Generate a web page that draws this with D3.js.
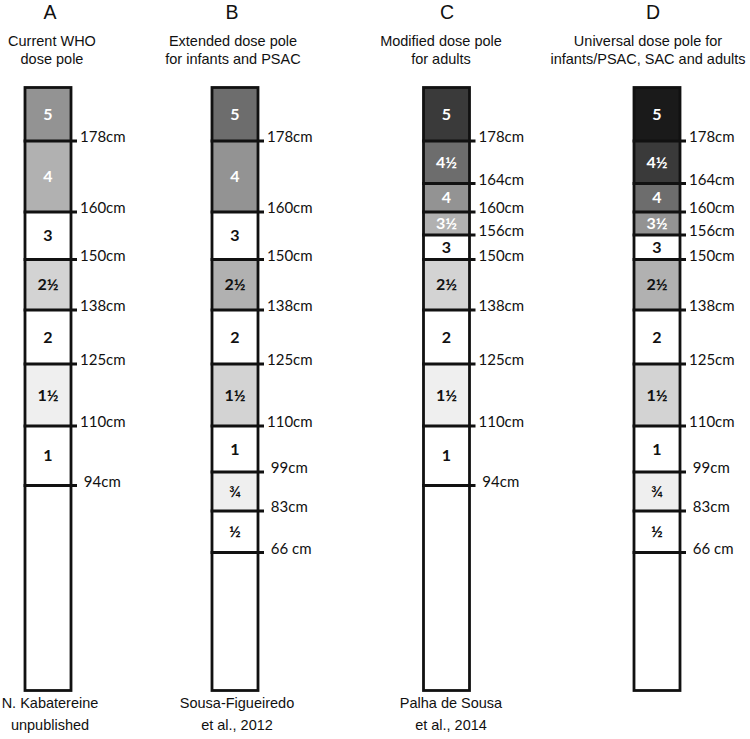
<!DOCTYPE html>
<html>
<head>
<meta charset="utf-8">
<script src="https://cdn.jsdelivr.net/npm/d3@7"></script>
<style>
  html, body { margin: 0; padding: 0; background: #fff; }
  svg { display: block; }
</style>
</head>
<body>
<svg id="chart" width="750" height="739"></svg>
<script>
// ---------------- DATA ----------------
const poleLetters = ["A", "B", "C", "D"];
const poleTitles = [
  ["Current WHO", "dose pole"],
  ["Extended dose pole", "for infants and PSAC"],
  ["Modified dose pole", "for adults"],
  ["Universal dose pole for", "infants/PSAC, SAC and adults"]
];
const poleSources = [
  ["N. Kabatereine", "unpublished"],
  ["Sousa-Figueiredo", "et al., 2012"],
  ["Palha de Sousa", "et al., 2014"],
  []
];
// dose labels (top to bottom), numeric dose, lower cut-off height (cm), cut-off label, shade level
const doseLabelsA = ["5", "4", "3", "2½", "2", "1½", "1"];
const doseValuesA = [5, 4, 3, 2.5, 2, 1.5, 1];
const cutsA = [178, 160, 150, 138, 125, 110, 94];
const cutLabelsA = ["178cm", "160cm", "150cm", "138cm", "125cm", "110cm", " 94cm"];
const shadeA = [4, 3, 0, 2, 0, 1, 0];

const doseLabelsB = ["5", "4", "3", "2½", "2", "1½", "1", "¾", "½"];
const doseValuesB = [5, 4, 3, 2.5, 2, 1.5, 1, 0.75, 0.5];
const cutsB = [178, 160, 150, 138, 125, 110, 99, 83, 66];
const cutLabelsB = ["178cm", "160cm", "150cm", "138cm", "125cm", "110cm", " 99cm", " 83cm", " 66 cm"];
const shadeB = [5, 4, 0, 3, 0, 2, 0, 1, 0];

const doseLabelsC = ["5", "4½", "4", "3½", "3", "2½", "2", "1½", "1"];
const doseValuesC = [5, 4.5, 4, 3.5, 3, 2.5, 2, 1.5, 1];
const cutsC = [178, 164, 160, 156, 150, 138, 125, 110, 94];
const cutLabelsC = ["178cm", "164cm", "160cm", "156cm", "150cm", "138cm", "125cm", "110cm", " 94cm"];
const shadeC = [6, 5, 4, 3, 0, 2, 0, 1, 0];

const doseLabelsD = ["5", "4½", "4", "3½", "3", "2½", "2", "1½", "1", "¾", "½"];
const doseValuesD = [5, 4.5, 4, 3.5, 3, 2.5, 2, 1.5, 1, 0.75, 0.5];
const cutsD = [178, 164, 160, 156, 150, 138, 125, 110, 99, 83, 66];
const cutLabelsD = ["178cm", "164cm", "160cm", "156cm", "150cm", "138cm", "125cm", "110cm", " 99cm", " 83cm", " 66 cm"];
const shadeD = [7, 6, 5, 4, 0, 3, 0, 2, 0, 1, 0];

const poleTopCm = 190;
const poleBottomCm = 40;

// ---------------- LAYOUT ----------------
const poles = [
  {labels: doseLabelsA, values: doseValuesA, cuts: cutsA, cutLabels: cutLabelsA, shade: shadeA},
  {labels: doseLabelsB, values: doseValuesB, cuts: cutsB, cutLabels: cutLabelsB, shade: shadeB},
  {labels: doseLabelsC, values: doseValuesC, cuts: cutsC, cutLabels: cutLabelsC, shade: shadeC},
  {labels: doseLabelsD, values: doseValuesD, cuts: cutsD, cutLabels: cutLabelsD, shade: shadeD}
];
const poleCenters = [48, 235, 446.5, 657];
const letterX = [50, 232, 447, 653];
const titleX = [52, 233, 441, 648];
const sourceX = [50, 237, 451, 650];
const poleW = 46;
const strokeW = 2.8;

// height (cm) -> vertical position: the pole's graduation is not linear in cm
const y = d3.scaleLinear()
  .domain([poleTopCm, 178, 164, 160, 156, 150, 138, 125, 110, 99, 94, 83, 66, poleBottomCm])
  .range([87.5, 141, 183.5, 212, 235, 259.5, 310, 364, 426, 472, 485.5, 511, 552.5, 690.5]);

const grey = d3.scaleOrdinal()
  .domain([0, 1, 2, 3, 4, 5, 6, 7])
  .range(["#ffffff", "#efefef", "#d3d3d3", "#b1b1b1", "#939393", "#6d6d6d", "#3a3a3a", "#1a1a1a"]);

const svg = d3.select("#chart");
const hdrFont = "'Liberation Sans', Arial, sans-serif";
const poleFont = "Lato, 'Open Sans', sans-serif";

poles.forEach((p, i) => {
  const cx = poleCenters[i];
  const x0 = cx - poleW / 2, x1 = cx + poleW / 2;
  const g = svg.append("g");

  // header
  g.append("text").attr("x", letterX[i]).attr("y", 19)
    .attr("text-anchor", "middle").attr("font-family", hdrFont)
    .attr("font-size", 19.5).attr("fill", "#111").text(poleLetters[i]);
  poleTitles[i].forEach((t, k) => {
    g.append("text").attr("x", titleX[i]).attr("y", 46 + k * 17.5)
      .attr("text-anchor", "middle").attr("font-family", hdrFont)
      .attr("font-size", 14.5).attr("fill", "#111").text(t);
  });
  poleSources[i].forEach((t, k) => {
    g.append("text").attr("x", sourceX[i]).attr("y", 708 + k * 22)
      .attr("text-anchor", "middle").attr("font-family", hdrFont)
      .attr("font-size", 14.5).attr("fill", "#111").text(t);
  });

  // bands
  const bands = p.labels.map((lab, k) => ({
    label: lab,
    value: p.values[k],
    top: k === 0 ? poleTopCm : p.cuts[k - 1],
    bottom: p.cuts[k],
    shade: p.shade[k]
  }));

  g.selectAll("rect.band").data(bands).join("rect")
    .attr("class", "band")
    .attr("x", x0).attr("width", poleW)
    .attr("y", d => y(d.top)).attr("height", d => y(d.bottom) - y(d.top))
    .attr("fill", d => grey(d.shade));

  g.selectAll("text.dose").data(bands).join("text")
    .attr("class", "dose")
    .attr("x", cx)
    .attr("y", d => (y(d.top) + y(d.bottom)) / 2 + 1.5)
    .attr("text-anchor", "middle")
    .attr("dominant-baseline", "middle")
    .attr("font-family", poleFont)
    .attr("font-weight", "bold")
    .attr("font-size", 16)
    .attr("fill", d => d.value > 3 ? "#ffffff" : "#111111")
    .text(d => d.label);

  // pole outline
  g.append("rect")
    .attr("x", x0).attr("y", y(poleTopCm))
    .attr("width", poleW).attr("height", y(poleBottomCm) - y(poleTopCm))
    .attr("fill", "none").attr("stroke", "#111").attr("stroke-width", strokeW);

  // cut-off lines with ticks
  g.selectAll("line.cut").data(p.cuts).join("line")
    .attr("class", "cut")
    .attr("x1", x0 - strokeW / 2).attr("x2", x1 + 6)
    .attr("y1", d => y(d)).attr("y2", d => y(d))
    .attr("stroke", "#111").attr("stroke-width", strokeW);

  g.selectAll("text.cutlab").data(p.cuts).join("text")
    .attr("class", "cutlab")
    .attr("x", x1 + 9)
    .attr("y", d => y(d) + 1)
    .attr("font-family", poleFont)
    .attr("font-size", 15)
    .attr("fill", "#111")
    .style("white-space", "pre")
    .text((d, k) => p.cutLabels[k]);
});
</script>
</body>
</html>
